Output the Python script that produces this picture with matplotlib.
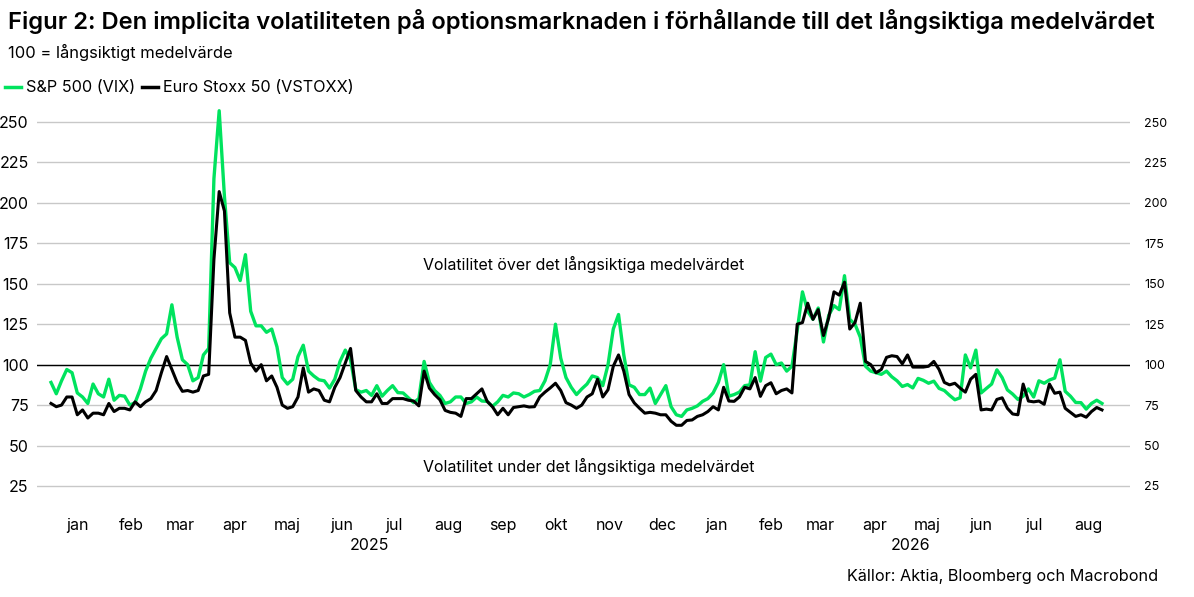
import matplotlib
matplotlib.use("Agg")
import matplotlib.pyplot as plt
import matplotlib.dates as mdates
import matplotlib.transforms as mtransforms
from matplotlib.lines import Line2D
import pandas as pd

plt.rcParams['font.family'] = ['Inter', 'DejaVu Sans']

# ---- data (3-day sampling from 2025-01-01) ----
start_date = "2025-01-01"
step_days = 3

sp500_vix = [
    89, 82, 90, 97, 95, 82.5, 80, 76, 88, 82,
    80, 91, 78, 81, 80.5, 75, 76.5, 85, 96, 104,
    110, 116, 119, 137, 117, 103, 100, 90, 92, 106,
    110, 215, 257, 204, 163, 160, 152, 168, 133, 124,
    124, 120, 122, 111, 92, 88, 91, 105, 112, 96,
    93, 90.6, 90, 85.5, 91, 102, 109, 103, 84.5, 83,
    84, 81, 87, 80.5, 84, 87, 82.7, 82.5, 79.5, 76.5,
    79, 102, 89, 84, 81, 76, 77, 80, 80, 76,
    77, 80, 77.5, 77.3, 74.2, 77, 81, 80, 82.5, 82,
    80, 81.5, 83.5, 84, 90, 100, 125, 104, 92, 86,
    81.5, 85, 88, 93, 92, 87, 100, 122, 131, 106,
    87.5, 86, 81.5, 81.5, 85.5, 76, 81.5, 87, 74, 69,
    68, 72, 73, 74.5, 77.3, 79, 82.5, 89, 100, 80.5,
    81.5, 83, 87, 87.5, 108, 89.8, 104.4, 106.5, 100, 101,
    96, 99, 121, 145, 133, 128, 135, 114, 130.5, 136.5,
    134, 155, 128, 125, 117, 99, 96, 95, 94, 96,
    92.5, 90, 86.5, 87.7, 85.6, 91.5, 90.3, 88.5, 89.8, 85.3,
    84, 81, 78.3, 79.5, 106, 98, 109, 82.5, 85.3, 88,
    96.8, 92, 84.4, 81.8, 78.5, 80.5, 85, 80, 90, 88.5,
    90.5, 91.7, 103, 83.5, 80.5, 76.6, 76.5, 72.5, 76, 78,
    76,
]

eurostoxx_vstoxx = [
    76, 74, 75, 80, 80, 69, 72, 67, 70, 70,
    69, 76, 71, 73, 73, 72, 77, 74, 77, 79,
    84, 95, 105, 97, 89, 83.5, 84, 83, 84, 93,
    94, 165, 207, 195, 132, 117, 117, 115, 101, 96,
    100, 90, 93, 86, 75, 73, 74, 80, 98, 83,
    85, 84, 78, 77, 86, 92, 101, 110, 84, 80,
    77, 77, 82, 76, 76, 79, 79, 79, 78, 77.5,
    74.5, 96, 85.5, 81.5, 78.3, 71.7, 70.5, 70, 68, 79,
    79, 82, 85, 77.3, 74, 69, 73, 69, 73.5, 74,
    74.5, 73.8, 74, 80, 83, 85.6, 88.5, 84, 76.5, 75,
    73, 75, 80, 82, 91, 80, 84.5, 99, 106, 96,
    81.5, 76.3, 73, 70, 70.5, 70, 69, 69, 65, 62.5,
    62.5, 65.5, 65.8, 68, 69, 71, 74, 72, 86, 77.5,
    77.3, 80, 86, 85, 92, 80.4, 87, 88.8, 82, 84,
    85, 82.5, 125, 126, 138, 128, 134, 118, 129, 145,
    143, 151, 122, 126, 138, 102, 100, 95, 97, 104.5,
    105.5, 105, 100.5, 106, 98.5, 98.5, 98.5, 99, 102, 97,
    89, 87.5, 88.5, 85.5, 83, 91, 94, 72, 72.5, 72,
    78.5, 79.5, 73, 69.5, 69, 88, 77.5, 77, 77.5, 75.5,
    88, 82.3, 83, 73, 70.5, 68, 69, 67.5, 71, 73.5,
    72,
]

series_names = ["S&P 500 (VIX)", "Euro Stoxx 50 (VSTOXX)"]
month_labels = ["jan", "feb", "mar", "apr", "maj", "jun", "jul", "aug", "sep",
                "okt", "nov", "dec"]
y_ticks = [25, 50, 75, 100, 125, 150, 175, 200, 225, 250]
year_labels = ["2025", "2026"]

dates = pd.date_range(start_date, periods=len(sp500_vix), freq=f"{step_days}D")

GREEN = "#00e35e"
BLACK = "#000000"
GRID = "#c8c8c8"

fig = plt.figure(figsize=(11.94, 5.97), dpi=100)
ax = fig.add_axes([0.031, 0.1508, 0.9154, 0.6773])

x_left = pd.Timestamp("2024-12-24")
x_right = pd.Timestamp("2026-09-09")
ax.set_xlim(x_left, x_right)
ax.set_ylim(12, 262)

for yv in y_ticks:
    ax.axhline(yv, color=GRID, lw=1.0, zorder=1)
ax.axhline(100, color=BLACK, lw=1.0, zorder=2)

ax.plot(dates, sp500_vix, color=GREEN, lw=2.4, zorder=3)
ax.plot(dates, eurostoxx_vstoxx, color=BLACK, lw=2.2, zorder=4)

for s in ax.spines.values():
    s.set_visible(False)

# y ticks left and right
ax.set_yticks(y_ticks)
ax.set_yticklabels([str(v) for v in y_ticks], fontsize=11.5)
ax.tick_params(axis='y', length=0, pad=6)
ax2 = ax.twinx()
ax2.set_ylim(ax.get_ylim())
ax2.set_yticks(y_ticks)
ax2.set_yticklabels([str(v) for v in y_ticks], fontsize=9)
ax2.tick_params(axis='y', length=0, pad=10)
for s in ax2.spines.values():
    s.set_visible(False)

# month ticks at mid-month
mid_months = pd.date_range("2025-01-01", "2026-08-01", freq="MS") + pd.Timedelta(days=15)
ax.set_xticks(mid_months)
ax.set_xticklabels([month_labels[d.month - 1] for d in mid_months], fontsize=11.5)
ax.tick_params(axis='x', length=0, pad=8)

# year labels
trans = mtransforms.blended_transform_factory(ax.transData, fig.transFigure)
y2025_mid = pd.Timestamp("2025-07-02")
y2026_mid = pd.Timestamp("2026") + (x_right - pd.Timestamp("2026")) / 2
ax.text(mdates.date2num(y2025_mid), 1 - 545 / 597, year_labels[0], transform=trans,
        ha='center', va='center', fontsize=11.5)
ax.text(mdates.date2num(y2026_mid), 1 - 545 / 597, year_labels[1], transform=trans,
        ha='center', va='center', fontsize=11.5)

# annotations
blend = mtransforms.blended_transform_factory(ax.transAxes, ax.transData)
ax.text(0.5003, 162, "Volatilitet över det långsiktiga medelvärdet",
        transform=blend, ha='center', va='center', fontsize=11.5)
ax.text(0.5049, 37, "Volatilitet under det långsiktiga medelvärdet",
        transform=blend, ha='center', va='center', fontsize=11.5)

# titles
fig.text(8 / 1194, 1 - 22 / 597,
         "Figur 2: Den implicita volatiliteten på optionsmarknaden i förhållande till det långsiktiga medelvärdet",
         ha='left', va='center', fontsize=17.1, fontweight='semibold')
fig.text(8 / 1194, 1 - 52 / 597, "100 = långsiktigt medelvärde",
         ha='left', va='center', fontsize=11.9)

# legend
handles = [Line2D([0], [0], color=GREEN, lw=2.5), Line2D([0], [0], color=BLACK, lw=2.5)]
fig.legend(handles, series_names, loc='center left',
           bbox_to_anchor=(0.0, 1 - 88 / 597), ncol=2, frameon=False,
           fontsize=11.7, handlelength=1.0, handletextpad=0.3, columnspacing=0.4,
           borderaxespad=0, borderpad=0.3)

fig.text(1158 / 1194, 1 - 576 / 597, "Källor: Aktia, Bloomberg och Macrobond",
         ha='right', va='center', fontsize=11.7)

fig.savefig("out.png", dpi=100)
